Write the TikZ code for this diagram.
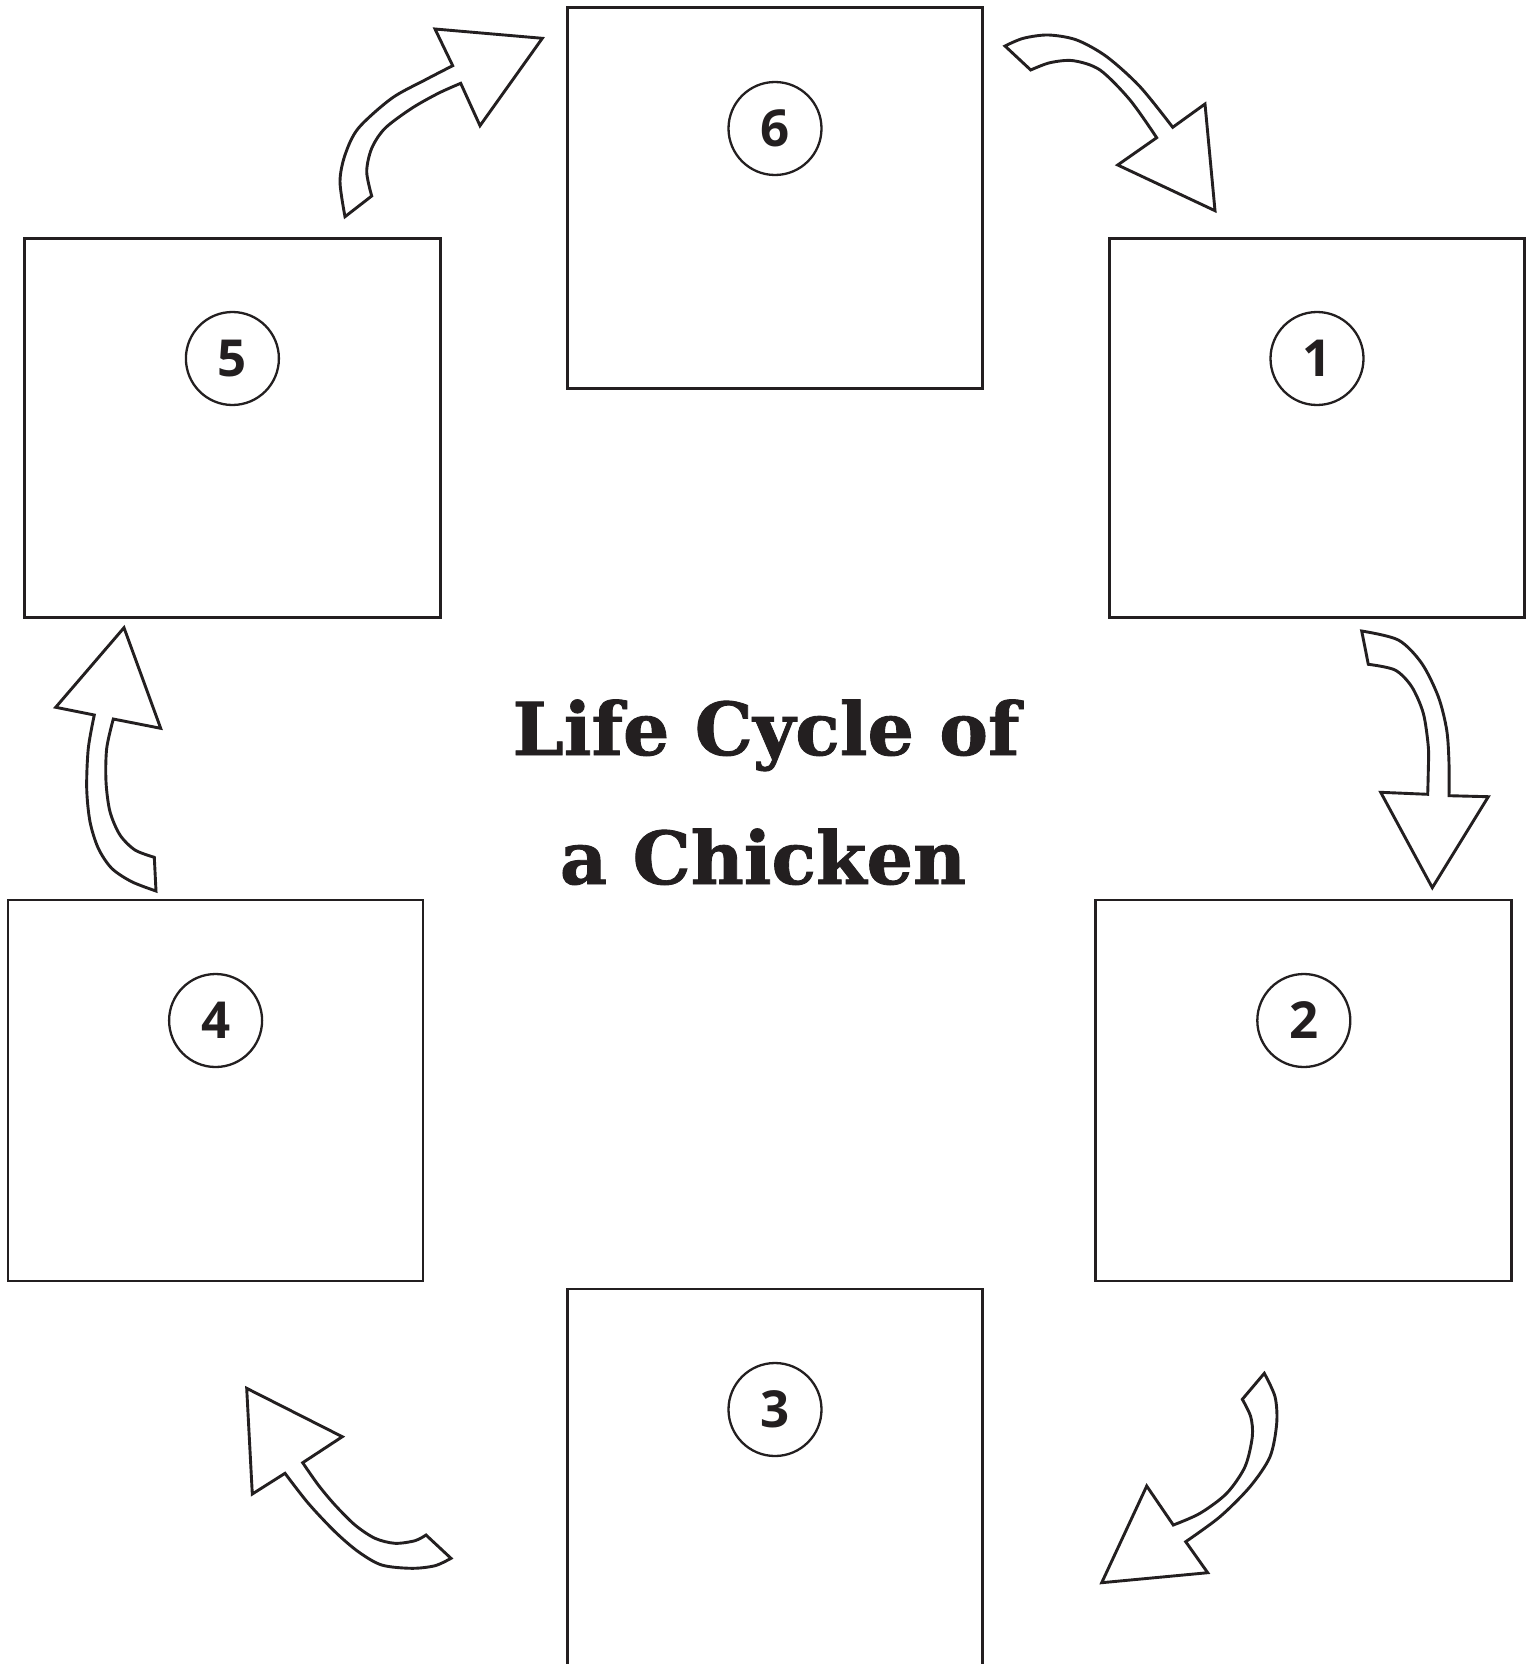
\documentclass[tikz,border=0pt]{standalone}
\usepackage{fontspec}
\newfontfamily\titlefont[FakeBold=1.2]{DejaVu Serif}
\newfontfamily\numfont{Open Sans}
\definecolor{ink}{HTML}{231F20}
\tikzset{
  stagebox/.style={draw=ink, line width=2.7pt, rectangle, inner sep=0pt, minimum width=415pt, minimum height=380pt},
  numcircle/.style={draw=ink, line width=2.3pt, circle, inner sep=0pt, minimum size=93pt, font=\numfont\bfseries\fontsize{51}{51}\selectfont, text=ink},
  blockarrow/.style={draw=ink, fill=white, line width=2.9pt, line join=miter},
  titletext/.style={font=\titlefont\bfseries\fontsize{73}{73}\selectfont, text=ink, inner sep=0pt, anchor=base}
}
\begin{document}
\begin{tikzpicture}[x=1pt,y=-1pt]
\clip (0,0) rectangle (1533,1664);
\fill[white] (0,0) rectangle (1533,1664);
% boxes
\node[stagebox, minimum width=415pt, minimum height=381pt] (b6) at (774.9,197.8) {};
\node[stagebox, minimum width=415pt, minimum height=379pt] (b1) at (1317.3,427.7) {};
\node[stagebox, minimum width=416pt, minimum height=379pt] (b5) at (232.4,427.7) {};
\node[stagebox, minimum width=415pt, minimum height=381pt] (b4) at (215.6,1090.4) {};
\node[stagebox, minimum width=416pt, minimum height=381pt] (b2) at (1303.8,1090.4) {};
\node[stagebox, minimum width=415pt, minimum height=450pt] (b3) at (774.9,1514) {};
% number circles
\node[numcircle] (c6) at (775,128.5) {6};
\node[numcircle] (c1) at (1317,358.5) {1};
\node[numcircle] (c5) at (232.4,358.5) {5};
\node[numcircle] (c4) at (215.6,1020.5) {4};
\node[numcircle] (c2) at (1303.8,1020.5) {2};
\node[numcircle] (c3) at (775,1409.5) {3};
% title
\node[titletext] (t1) at (766,755) {Life Cycle of};
\node[titletext] (t2) at (763,884) {a Chicken};
% arrow 6 -> 1
\draw[blockarrow] (1005,46) -- (1030.7,70)
  -- plot[smooth] coordinates {(1030.7,70) (1050,62.7) (1073.3,60.7) (1100,70) (1130,100) (1156.7,137.7)}
  -- (1117.7,165) -- (1215,210.7) -- (1205,104)
  -- plot[smooth] coordinates {(1172.7,127.3) (1140,86.7) (1106.7,56.7) (1076.7,40) (1048.3,35) (1023.3,38.3) (1005,46)}
  -- cycle;
% arrow 1 -> 2
\draw[blockarrow] (1361.7,631) -- (1368.3,664.3)
  -- plot[smooth] coordinates {(1368.3,664.3) (1395,670) (1411.7,686.7) (1423.3,713.3) (1428.3,746.7) (1428.3,770) (1427.7,794.3)}
  -- (1380.7,792.3) -- (1432.3,887.7) -- (1488.3,796.7)
  -- plot[smooth] coordinates {(1449,795.7) (1449,763.3) (1446.7,730) (1438.3,696.7) (1421.7,663.3) (1398.3,640) (1361.7,631)}
  -- cycle;
% arrow 2 -> 3
\draw[blockarrow] (1264.3,1373.3) -- (1242.3,1399.3)
  -- plot[smooth] coordinates {(1242.3,1399.3) (1250.7,1416.7) (1252.3,1436.7) (1245,1466.7) (1226.7,1493.3) (1200,1513.3) (1173.3,1525)}
  -- (1146.7,1486) -- (1101.7,1582.7) -- (1207.7,1572.7)
  -- plot[smooth] coordinates {(1185.7,1541.7) (1220,1516.7) (1250,1486.7) (1270,1456.7) (1276.7,1423.3) (1275,1396.7) (1264.3,1373.3)}
  -- cycle;
% arrow 3 -> 4
\draw[blockarrow] (451,1558.3) -- (426,1535)
  -- plot[smooth] coordinates {(426,1535) (415,1540.7) (395,1543.3) (375,1538.3) (355,1525) (335,1505) (318.3,1485) (302.7,1462.7)}
  -- (342.3,1436.7) -- (246.7,1388.3) -- (252.3,1494)
  -- plot[smooth] coordinates {(285,1473.3) (308.3,1503.3) (335,1531.7) (358.3,1551.7) (381.7,1565) (411.7,1568.3) (435,1565.7) (451,1558.3)}
  -- cycle;
% arrow 4 -> 5
\draw[blockarrow] (156,891) -- (154.3,857.3)
  -- plot[smooth] coordinates {(154.3,857.3) (135,850) (120,835) (110,811.7) (106,781.7) (106.7,748.3) (113.3,719)}
  -- (160.7,728.3) -- (124,627.7) -- (55.7,707.3)
  -- plot[smooth] coordinates {(94.3,715) (88.3,748.3) (86.7,788.3) (90,821.7) (98.3,848.3) (111.7,868.3) (131.7,881.7) (156,891)}
  -- cycle;
% arrow 5 -> 6
\draw[blockarrow] (345,216.7) -- (371.7,196)
  -- plot[smooth] coordinates {(371.7,196) (366.7,171.7) (371.7,148.3) (385,128.3) (411.7,108.3) (438.3,93.3) (460.7,83.3)}
  -- (480,125.7) -- (542.3,38.3) -- (435,29)
  -- plot[smooth] coordinates {(452.7,65.7) (425,80) (391.7,98.3) (358.3,128.3) (345,155) (340,181.7) (345,216.7)}
  -- cycle;
\end{tikzpicture}
\end{document}
